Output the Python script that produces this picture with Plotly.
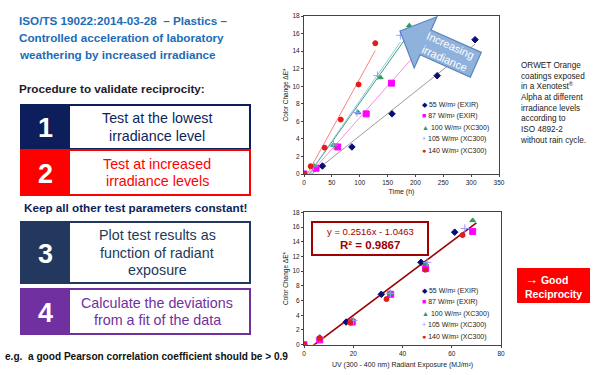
import math
import numpy as np
import plotly.graph_objects as go

W, H = 600, 375
FONT = "Liberation Sans, Arial, sans-serif"

# ---------------- data ----------------
series_names = ["55 W/m² (EXIR)", "87 W/m² (EXIR)", "100 W/m² (XC300)",
                "105 W/m² (XC300)", "140 W/m² (XC300)"]

time_55 = [0, 33, 86, 158, 239, 307]
time_87 = [0, 21.6, 60.6, 111.6, 157, 218]
time_100 = [0, 18, 53, 97, 137, 189]
time_105 = [0, 17, 53, 95, 132, 173]
time_140 = [0, 12, 37, 66, 98, 128]

dE_55 = [0, 0.91, 3.08, 6.85, 11.2, 15.3]
dE_87 = [0, 0.65, 3.08, 6.85, 10.35, 15.4]
dE_100 = [0, 0.9, 3.3, 7.0, 11.0, 16.9]
dE_105 = [0, 0.9, 3.3, 7.0, 11.2, 15.8]
dE_140 = [0, 0.88, 3.0, 6.2, 10.2, 14.9]

exposure_55 = [0, 6.4, 17.1, 31.4, 47.5, 61.2]
exposure_87 = [0, 6.4, 19.6, 35.2, 49.4, 68.5]
exposure_100 = [0, 6.4, 19.5, 35.0, 49.4, 68.5]
exposure_105 = [0, 6.4, 20.1, 35.0, 50.0, 65.3]
exposure_140 = [0, 6.4, 18.8, 33.5, 49.3, 64.4]

fit_slope = 0.2516
fit_intercept = -1.0463
fit_r2 = 0.9867

time_ticks = [0, 50, 100, 150, 200, 250, 300, 350]
exposure_ticks = [0, 20, 40, 60, 80]
dE_ticks = [0, 2, 4, 6, 8, 10, 12, 14, 16, 18]

times = [time_55, time_87, time_100, time_105, time_140]
dEs = [dE_55, dE_87, dE_100, dE_105, dE_140]
exposures = [exposure_55, exposure_87, exposure_100, exposure_105, exposure_140]

# ---------------- styles ----------------
marker_colors = ["#0a0a78", "#ff00ff", "#2f9a5a", "#9a9aff", "#e21b1b"]
marker_symbols = ["diamond", "square", "triangle-up", "cross-thin", "circle"]
marker_sizes = [5, 6, 5, 6, 5]
trend_colors = ["#9a9a9a", "#ff88dd", "#3fa07a", "#8fc8e0", "#ff8080"]
legend_glyphs = ["◆", "■", "▲", "+", "●"]


def X(px):
    return px / W


def Y(py):
    return 1 - py / H


fig = go.Figure()

# top chart: time
for i in range(5):
    t = np.array(times[i], dtype=float)
    d = np.array(dEs[i], dtype=float)
    k, b = np.polyfit(t, d, 1)
    tx = np.array([0, t.max()])
    fig.add_trace(go.Scatter(x=tx, y=k * tx + b, mode="lines",
                             line=dict(color=trend_colors[i], width=1),
                             showlegend=False, hoverinfo="skip",
                             xaxis="x", yaxis="y"))
for i in range(5):
    fig.add_trace(go.Scatter(x=times[i], y=dEs[i], mode="markers", name=series_names[i],
                             marker=dict(color=marker_colors[i], symbol=marker_symbols[i],
                                         size=marker_sizes[i],
                                         line=dict(color=marker_colors[i], width=1)),
                             showlegend=False, xaxis="x", yaxis="y"))

# bottom chart: radiant exposure
all_exp = np.concatenate([np.array(e, dtype=float) for e in exposures])
fx = np.array([0, all_exp.max() + 1.5])
fig.add_trace(go.Scatter(x=fx, y=fit_slope * fx + fit_intercept, mode="lines",
                         line=dict(color="#9b0000", width=1.6),
                         showlegend=False, hoverinfo="skip", xaxis="x2", yaxis="y2"))
for i in range(5):
    fig.add_trace(go.Scatter(x=exposures[i], y=dEs[i], mode="markers", name=series_names[i],
                             marker=dict(color=marker_colors[i], symbol=marker_symbols[i],
                                         size=marker_sizes[i],
                                         line=dict(color=marker_colors[i], width=1)),
                             showlegend=False, xaxis="x2", yaxis="y2"))

axis_common = dict(showline=True, linecolor="#444", linewidth=1, mirror=True,
                   showgrid=False, zeroline=False, ticks="outside", ticklen=2,
                   tickcolor="#444", tickfont=dict(size=6.5, color="#222", family=FONT))

fig.update_layout(
    width=W, height=H,
    margin=dict(l=0, r=0, t=0, b=0, autoexpand=False),
    paper_bgcolor="white", plot_bgcolor="white",
    font=dict(family=FONT),
    showlegend=False,
    xaxis=dict(domain=[X(304), X(499)], range=[0, 350], tickvals=time_ticks,
               anchor="y", title=dict(text="Time (h)", font=dict(size=7, color="#222"), standoff=4),
               **axis_common),
    yaxis=dict(domain=[Y(174), Y(16)], range=[0, 18], tickvals=dE_ticks,
               anchor="x", title=dict(text="Color Change ΔE*", font=dict(size=6.5, color="#222"), standoff=3),
               **axis_common),
    xaxis2=dict(domain=[X(304), X(501)], range=[0, 80], tickvals=exposure_ticks,
                anchor="y2", title=dict(text="UV (300 - 400 nm) Radiant Exposure (MJ/m²)",
                                        font=dict(size=7, color="#222"), standoff=6),
                **axis_common),
    yaxis2=dict(domain=[Y(344.7), Y(212.3)], range=[0, 18], tickvals=dE_ticks,
                anchor="x2", title=dict(text="Color Change ΔE*", font=dict(size=6.5, color="#222"), standoff=3),
                **axis_common),
)

shapes = []
ann = []


def text(x, y, s, size, color, bold=False, xanchor="center", yanchor="middle", align="center", angle=0):
    if bold:
        s = "<b>" + s.replace("<br>", "</b><br><b>") + "</b>"
    ann.append(dict(x=X(x), y=Y(y), xref="paper", yref="paper", text=s, showarrow=False,
                    xanchor=xanchor, yanchor=yanchor, align=align, textangle=angle,
                    font=dict(size=size, color=color, family=FONT)))


def rect(x0, y0, x1, y1, fill=None, line=None, lw=0):
    shapes.append(dict(type="rect", xref="paper", yref="paper",
                       x0=X(x0), x1=X(x1), y0=Y(y1), y1=Y(y0),
                       fillcolor=fill if fill else "rgba(0,0,0,0)",
                       line=dict(color=line if line else "rgba(0,0,0,0)", width=lw), layer="above"))


# ---------- left side ----------
title_blue = "#1d6cb6"
text(17, 20, "ISO/TS 19022:2014-03-28  – Plastics –", 11.7, title_blue, True, xanchor="left")
text(17, 37, "Controlled acceleration of laboratory", 11.7, title_blue, True, xanchor="left")
text(17, 54, "weathering by increased irradiance", 11.7, title_blue, True, xanchor="left")
text(17, 88, "Procedure to validate reciprocity:", 11.7, "#1c1c2c", True, xanchor="left")

steps = [
    (105, 149, "#0c1f5c", "#0c1f5c", "1", ["Test at the lowest", "irradiance level"]),
    (150, 195, "#ff0000", "#ff0000", "2", ["Test at increased", "irradiance levels"]),
    (222, 283, "#22385f", "#1c3a5a", "3", ["Plot test results as", "function of radiant", "exposure"]),
    (289, 334, "#7030a0", "#7030a0", "4", ["Calculate the deviations", "from a fit of the data"]),
]
for y0, y1, col, tcol, num, lines in steps:
    rect(21, y0, 250, y1, fill="white", line=col, lw=2)
    rect(21, y0, 69, y1, fill=col, line=col, lw=2)
    text(45, (y0 + y1) / 2 + 1, num, 27, "white", True)
    n = len(lines)
    sp = 17.5
    cy = (y0 + y1) / 2
    for j, ln in enumerate(lines):
        text(157, cy + (j - (n - 1) / 2) * sp, ln, 14.3, tcol)

text(135, 207, "Keep all other test parameters constant!", 11.7, "#0f1f5a", True)
text(3, 356, "e.g.  a good Pearson correlation coefficient should be &gt; 0.9", 10.1, "#111", True,
     xanchor="left")

# ---------- right side ----------
text(518, 59, "ORWET Orange<br>coatings exposed<br>in a Xenotest<sup>®</sup><br>Alpha at different<br>"
              "irradiance levels<br>according to<br>ISO 4892-2<br>without rain cycle.",
     8.2, "#222", xanchor="left", yanchor="top", align="left")
rect(517, 268, 590, 303, fill="#ff0000")
text(523, 285.5, "<span style='font-size:13px'>→</span> Good<br>Reciprocity", 10.5, "white", True,
     xanchor="left", align="left")

# ---------- legends (text) ----------
for top_y in (105, 291):
    for i in range(5):
        ann.append(dict(x=X(420), y=Y(top_y + i * 11.4), xref="paper", yref="paper",
                        text=f"<span style='color:{marker_colors[i]}'>{legend_glyphs[i]}</span> {series_names[i]}",
                        showarrow=False, xanchor="left", yanchor="middle",
                        font=dict(size=7, color="#222", family=FONT)))

# ---------- equation box ----------
rect(312, 222, 428, 255, fill="white", line="#a00000", lw=2)
text(370, 231, "y = 0.2516x - 1.0463", 9.5, "#a00000")
text(370, 244.5, f"R² = {fit_r2:.4f}", 11.5, "#a00000", True)

# ---------- block arrow ----------
ang = math.radians(24)
u = (math.cos(ang), math.sin(ang))
v = (-math.sin(ang), math.cos(ang))
tip = (400, 31)
head_len, head_half, body_half, body_len = 28, 28, 13.5, 55
B = (tip[0] + head_len * u[0], tip[1] + head_len * u[1])


def pt(base, a, b):
    return (base[0] + a * u[0] + b * v[0], base[1] + a * u[1] + b * v[1])


poly = [tip, pt(B, 0, -head_half), pt(B, 0, -body_half), pt(B, body_len, -body_half),
        pt(B, body_len, body_half), pt(B, 0, body_half), pt(B, 0, head_half)]
path = "M " + " L ".join(f"{X(px):.5f},{Y(py):.5f}" for px, py in poly) + " Z"
shapes.append(dict(type="path", xref="paper", yref="paper", path=path,
                   fillcolor="#8fb2dc", line=dict(color="#5a86bd", width=1.2), layer="above"))
c = pt(B, body_len / 2 - 3, 0)
text(c[0], c[1], "Increasing<br>irradiance", 11, "white", angle=24)

fig.update_layout(shapes=shapes, annotations=ann)
fig.write_html("out.html", config={"displayModeBar": False},
               post_script="document.body.style.margin='0';document.body.style.overflow='hidden';")
